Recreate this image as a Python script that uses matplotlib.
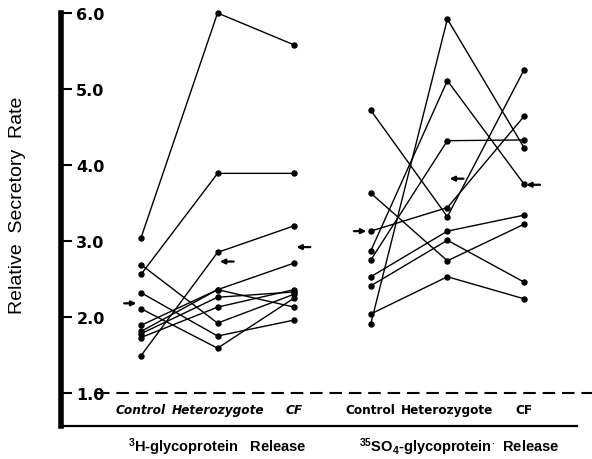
import matplotlib
matplotlib.use("Agg")
import matplotlib.pyplot as plt

plt.rcParams['font.family'] = ['Liberation Sans', 'DejaVu Sans']
plt.rcParams['mathtext.fontset'] = 'custom'
plt.rcParams['mathtext.rm'] = 'Liberation Sans:bold'
plt.rcParams['mathtext.bf'] = 'Liberation Sans:bold'
plt.rcParams['mathtext.default'] = 'rm'

# ---------------- data ----------------
groups = ["Control", "Heterozygote", "CF"]

# 3H-glycoprotein release: each row = one subject (Control, Heterozygote, CF)
h3_series = [
    [3.04, 6.00, 5.58],
    [2.56, 3.89, 3.89],
    [1.49, 2.85, 3.20],
    [2.69, 1.92, 2.30],
    [2.32, 1.75, 1.96],
    [2.11, 1.59, 2.25],
    [1.89, 2.36, 2.71],
    [1.81, 2.36, 2.13],
    [1.78, 2.26, 2.33],
    [1.73, 2.13, 2.36],
]
h3_means = [2.18, 2.73, 2.92]

# 35SO4-glycoprotein release
so4_series = [
    [1.91, 5.92, 4.23],
    [2.87, 5.11, 3.75],
    [2.75, 4.32, 4.33],
    [4.72, 3.32, 5.25],
    [3.63, 2.74, 3.22],
    [3.13, 3.44, 4.64],
    [2.53, 3.13, 3.34],
    [2.41, 3.01, 2.46],
    [2.04, 2.53, 2.24],
]
so4_means = [3.13, 3.82, 3.74]

yticks = [1.0, 2.0, 3.0, 4.0, 5.0, 6.0]
ytick_labels = ["1.0", "2.0", "3.0", "4.0", "5.0", "6.0"]
panel_titles = [r"$^{3}$H-glycoprotein   Release",
                r"$^{35}$SO$_{4}$-glycoprotein$^{\cdot}$  Release"]

# ---------------- figure ----------------
W, H = 592, 460
fig = plt.figure(figsize=(W / 100, H / 100), dpi=100)
ax = fig.add_axes([61 / W, 33.3 / H, (W - 61) / W, (446 - 33.3) / H])
ax.set_xlim(-1.044, 5.888)
ax.set_ylim(0.570, 6.0)

panels = [(0, h3_series, h3_means), (3, so4_series, so4_means)]
for offset, series, means in panels:
    xs = [offset + i for i in range(len(groups))]
    for s in series:
        ax.plot(xs, s, color='black', lw=1.0, marker='o', ms=3.6,
                mfc='black', mec='black', clip_on=False, zorder=3)
    # mean arrows: control arrow points right, others point left
    for i, m in enumerate(means):
        x = xs[i]
        if i == 0:
            head, tail = x - 0.06, x - 0.22
        else:
            head, tail = x + 0.03, x + 0.21
        ax.annotate('', xy=(head, m), xytext=(tail, m),
                    arrowprops=dict(arrowstyle='-|>', color='black', lw=1.6,
                                    mutation_scale=7, shrinkA=0, shrinkB=0))
    for i, g in enumerate(groups):
        ax.text(xs[i], 0.78, g, ha='center', va='center', fontsize=8.7,
                family='DejaVu Sans', fontweight='bold',
                style='italic' if offset == 0 else 'normal')

# dashed baseline at 1.0
ax.plot([-0.58, 5.888], [1.0, 1.0], color='black', lw=1.5,
        dashes=(6, 3.3), clip_on=False)

# spines / ticks
for sp in ['top', 'right']:
    ax.spines[sp].set_visible(False)
ax.spines['left'].set_linewidth(4.0)
ax.spines['bottom'].set_linewidth(1.6)
ax.spines['bottom'].set_bounds(-1.044, 5.69)
ax.set_xticks([])
ax.set_yticks(yticks)
ax.set_yticklabels(ytick_labels)
ax.tick_params(axis='y', direction='in', length=8, width=1.5, pad=-11,
               labelsize=11.5)
for lab in ax.get_yticklabels():
    lab.set_ha('left')
    lab.set_fontweight('bold')
    lab.set_family('DejaVu Sans')

# titles under each panel
title_x = [1.0, 4.16]
for tx, t in zip(title_x, panel_titles):
    ax.text(tx, 0.30, t, ha='center', va='center', fontsize=10.5,
            fontweight='bold', clip_on=False)

fig.text(18 / W, 0.554, "Relative  Secretory  Rate", rotation=90,
         ha='center', va='center', fontsize=14)

fig.savefig("out.png", dpi=100)
